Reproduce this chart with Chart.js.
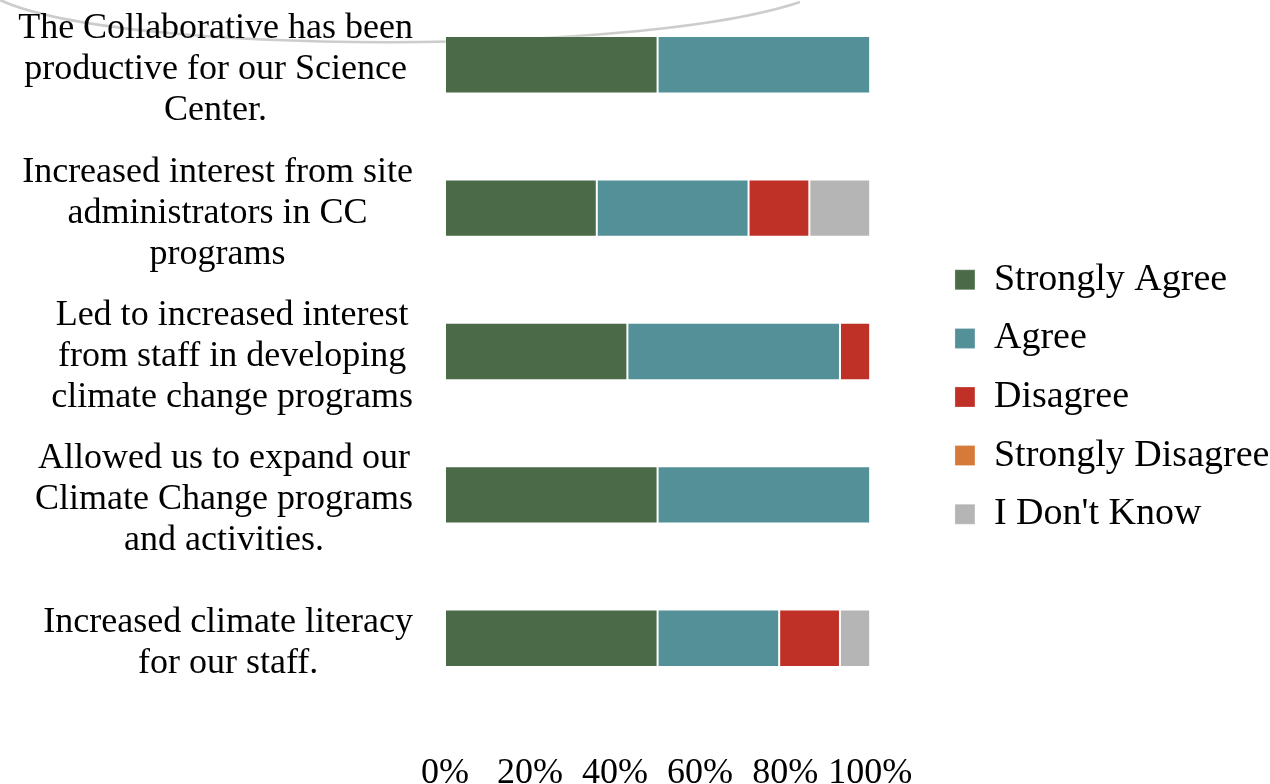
<!DOCTYPE html>
<html>
<head>
<meta charset="utf-8">
<script src="https://cdn.jsdelivr.net/npm/chart.js"></script>
<style>
  html, body { margin: 0; padding: 0; background: #fff; overflow: hidden; }
  /* canvas starts 7px above the page so the first category band is cut like the original */
  #wrap { width: 1270px; height: 791px; margin-top: -7px; }
</style>
</head>
<body>
<div id="wrap"><canvas id="chart"></canvas></div>
<script>
// categories (multi-line labels)
const categories = [
    ['The Collaborative has been', 'productive for our Science', 'Center.'],
    ['Increased interest from site', 'administrators in CC', 'programs'],
    ['Led to increased interest', 'from staff in developing', 'climate change programs'],
    ['Allowed us to expand our', 'Climate Change programs', 'and activities.'],
    ['Increased climate literacy', 'for our staff.']
];

// series values (percent of respondents)
const stronglyAgree    = [50, 35.7, 42.9, 50, 50];
const agree            = [50, 35.7, 50, 50, 28.6];
const disagree         = [0, 14.3, 7.1, 0, 14.3];
const stronglyDisagree = [0, 0, 0, 0, 0];
const dontKnow         = [0, 14.3, 0, 0, 7.1];

const tickValues = [0, 20, 40, 60, 80, 100];

const FONT = "'Liberation Serif', 'Times New Roman', serif";

// faint arc from the slide background
const arcDeco = {
    id: 'arcDeco',
    beforeDraw(chart) {
        const ctx = chart.ctx;
        ctx.save();
        ctx.translate(0, 7);
        ctx.strokeStyle = 'rgba(195,195,195,0.85)';
        ctx.lineWidth = 2.5;
        ctx.beginPath();
        ctx.moveTo(0, 0);
        ctx.bezierCurveTo(120, 56, 640, 56, 800, 2);
        ctx.stroke();
        ctx.restore();
    }
};

// category labels: each block right-aligned, its lines centred
const catLabels = {
    id: 'catLabels',
    afterDraw(chart) {
        const ctx = chart.ctx;
        const y = chart.scales.y;
        const right = y.right - 32;
        const lh = 41;
        ctx.save();
        ctx.font = '36px ' + FONT;
        ctx.fillStyle = '#000';
        ctx.textAlign = 'center';
        ctx.textBaseline = 'middle';
        categories.forEach((lines, i) => {
            const w = Math.max(...lines.map(t => ctx.measureText(t).width));
            const cx = right - w / 2;
            const cy = y.getPixelForValue(i) + 5;
            lines.forEach((t, j) => {
                ctx.fillText(t, cx, cy + (j - (lines.length - 1) / 2) * lh);
            });
        });
        ctx.restore();
    }
};

const mk = (label, data, color) => ({
    label: label,
    data: data,
    backgroundColor: color,
    borderColor: 'rgba(255,255,255,0.25)',
    borderWidth: 1,
    borderSkipped: false
});

new Chart(document.getElementById('chart'), {
    type: 'bar',
    data: {
        labels: categories,
        datasets: [
            mk('Strongly Agree', stronglyAgree, '#4b6a48'),
            mk('Agree', agree, '#539098'),
            mk('Disagree', disagree, '#bf3127'),
            mk('Strongly Disagree', stronglyDisagree, '#d67a3a'),
            mk("I Don't Know", dontKnow, '#b5b5b5')
        ]
    },
    options: {
        indexAxis: 'y',
        responsive: true,
        maintainAspectRatio: false,
        animation: false,
        layout: { padding: { top: 0, bottom: 0, left: 0, right: -9.4 } },
        datasets: { bar: { barPercentage: 0.4, categoryPercentage: 1 } },
        plugins: {
            legend: {
                position: 'right',
                maxWidth: 400,
                title: { display: true, text: '', font: { size: 10 }, padding: { top: 0, bottom: 5 } },
                labels: {
                    font: { family: FONT, size: 38 },
                    color: '#000',
                    boxWidth: 20,
                    boxHeight: 20,
                    padding: 20.6
                }
            },
            tooltip: { enabled: false }
        },
        scales: {
            x: {
                stacked: true,
                min: 0,
                max: 115.1,
                grid: { display: false },
                border: { display: false },
                afterBuildTicks: s => { s.ticks = tickValues.map(v => ({ value: v })); },
                afterFit: s => { s.height = 74; },
                ticks: {
                    font: { family: FONT, size: 36 },
                    color: '#000',
                    padding: 34,
                    maxRotation: 0,
                    autoSkip: false,
                    callback: v => v + '%'
                }
            },
            y: {
                stacked: true,
                grid: { display: false },
                border: { display: false },
                afterFit: s => { s.width = 445; s.paddingTop = 0; s.paddingBottom = 0; },
                ticks: { display: false }
            }
        }
    },
    plugins: [arcDeco, catLabels]
});
</script>
</body>
</html>
